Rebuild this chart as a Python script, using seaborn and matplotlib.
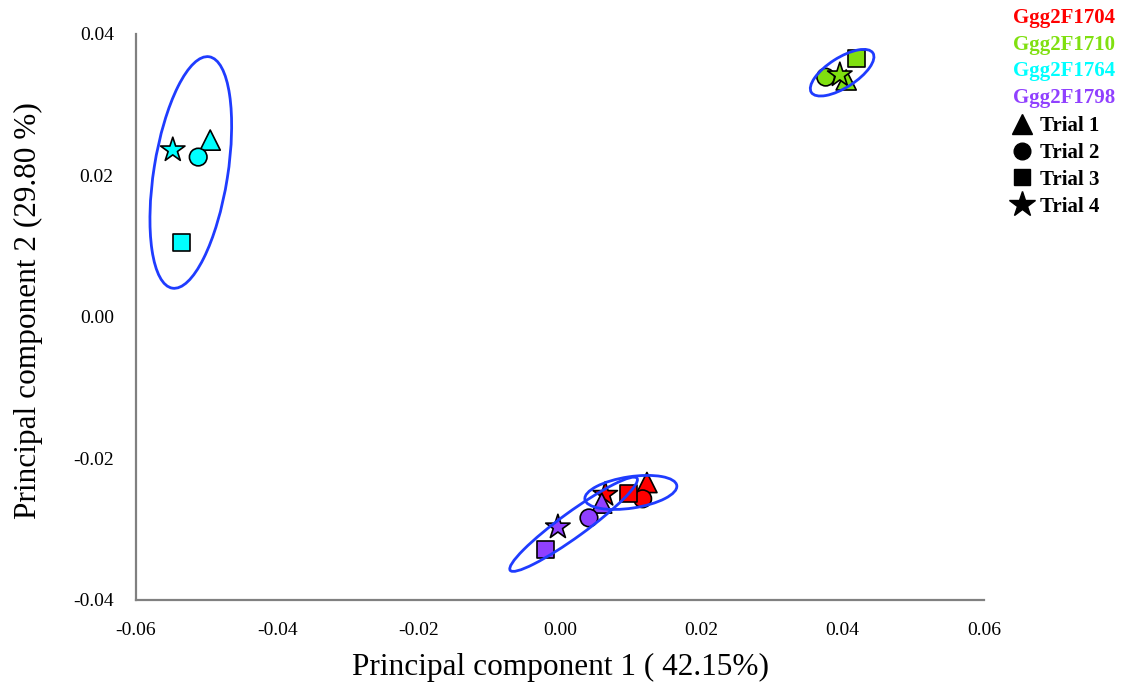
import numpy as np
import pandas as pd
import matplotlib
matplotlib.use("Agg")
import matplotlib.pyplot as plt
from matplotlib.patches import Ellipse
from matplotlib.lines import Line2D
import seaborn as sns

groups = ["Ggg2F1704", "Ggg2F1710", "Ggg2F1764", "Ggg2F1798"]
trials = ["Trial 1", "Trial 2", "Trial 3", "Trial 4"]
colors = ["#ff0000", "#80e010", "#00ffff", "#9040ff"]

pc1_1704 = [0.0123, 0.0117, 0.0097, 0.0064]
pc2_1704 = [-0.0234, -0.0257, -0.0250, -0.0251]
pc1_1710 = [0.0405, 0.0376, 0.0420, 0.0396]
pc2_1710 = [0.0335, 0.0339, 0.0365, 0.0342]
pc1_1764 = [-0.0495, -0.0512, -0.0535, -0.0548]
pc2_1764 = [0.0250, 0.0226, 0.0105, 0.0236]
pc1_1798 = [0.0059, 0.0041, -0.0020, -0.0003]
pc2_1798 = [-0.0263, -0.0284, -0.0328, -0.0297]

pc1 = [pc1_1704, pc1_1710, pc1_1764, pc1_1798]
pc2 = [pc2_1704, pc2_1710, pc2_1764, pc2_1798]

rows = []
for g, xs, ys in zip(groups, pc1, pc2):
    for t, x, y in zip(trials, xs, ys):
        rows.append({"group": g, "trial": t, "PC1": x, "PC2": y})
df = pd.DataFrame(rows)

sns.set_style("white")
plt.rcParams["font.family"] = ["Liberation Serif", "DejaVu Serif"]
plt.rcParams["text.color"] = "black"
plt.rcParams["axes.labelcolor"] = "black"
plt.rcParams["xtick.color"] = "black"
plt.rcParams["ytick.color"] = "black"

fig = plt.figure(figsize=(11.27, 6.89), dpi=100)
ax = fig.add_axes([0.1207, 0.1292, 0.8731 - 0.1207, 0.9507 - 0.1292])

marker_map = {"Trial 1": "^", "Trial 2": "o", "Trial 3": "s", "Trial 4": "*"}
size_map = {"Trial 1": 210, "Trial 2": 160, "Trial 3": 150, "Trial 4": 340}

sns.scatterplot(data=df, x="PC1", y="PC2", hue="group", style="trial",
                size="trial", sizes=size_map, markers=marker_map,
                palette=dict(zip(groups, colors)), edgecolor="black",
                linewidth=1.2, legend=False, ax=ax, zorder=3)

# 95% confidence ellipses computed from each group's points
chi2_95 = 5.991
for xs, ys in zip(pc1, pc2):
    cov = np.cov(np.array(xs), np.array(ys))
    vals, vecs = np.linalg.eigh(cov)
    order = vals.argsort()[::-1]
    vals, vecs = vals[order], vecs[:, order]
    angle = np.degrees(np.arctan2(vecs[1, 0], vecs[0, 0]))
    w, h = 2 * np.sqrt(chi2_95 * vals)
    e = Ellipse((np.mean(xs), np.mean(ys)), w, h, angle=angle,
                fill=False, edgecolor="#1f3cff", linewidth=2.0, zorder=4)
    ax.add_patch(e)

ax.set_xlim(-0.06, 0.06)
ax.set_ylim(-0.04, 0.04)
ax.set_xticks(np.arange(-0.06, 0.061, 0.02))
ax.set_yticks([-0.04, -0.02, 0.0, 0.02, 0.04])
ax.set_xticklabels(["-0.06", "-0.04", "-0.02", "0.00", "0.02", "0.04", "0.06"])
ax.set_yticklabels(["-0.04", "-0.02", "0.00", "0.02", "0.04"])
for s in ["top", "right"]:
    ax.spines[s].set_visible(False)
for s in ["left", "bottom"]:
    ax.spines[s].set_color("#808080")
    ax.spines[s].set_linewidth(1.6)
ax.tick_params(axis="both", direction="out", length=4, width=1.2,
               color="#606060", labelcolor="black", labelsize=14, pad=12)
ax.set_xlabel("Principal component 1 ( 42.15%)", fontsize=22.5, labelpad=10)
ax.set_ylabel("Principal component 2 (29.80 %)", fontsize=22.5)
ax.yaxis.set_label_coords(-0.11, 0.512)

# legend: group names as coloured text
y0 = 1 - 18 / 689
dy = 26.7 / 689
for i, (g, c) in enumerate(zip(groups, colors)):
    fig.text(1013 / 1127, y0 - i * dy, g, color=c, fontsize=15,
             fontweight="bold", va="center", ha="left")

handles = [Line2D([], [], linestyle="none", marker=marker_map[t], color="black",
                  markersize=ms) for t, ms in zip(trials, [14, 12, 11.5, 19])]
leg = fig.legend(handles, trials, loc="upper left",
                 bbox_to_anchor=(1011.5 / 1127, 1 - 116 / 689), frameon=False,
                 prop={"weight": "bold", "size": 15}, handlelength=1.0,
                 handletextpad=0.37, labelspacing=0.33, borderpad=0.0,
                 borderaxespad=0.0, labelcolor="black")

fig.savefig("out.png", dpi=100)
